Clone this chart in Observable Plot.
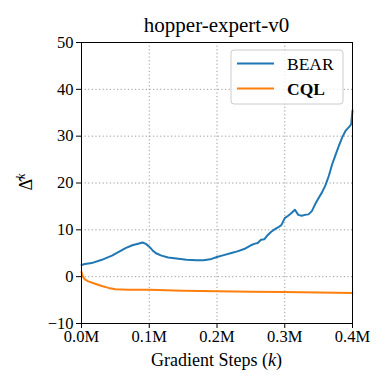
<!DOCTYPE html>
<html><head><meta charset="utf-8">
<script src="https://cdn.jsdelivr.net/npm/d3@7"></script>
<script src="https://cdn.jsdelivr.net/npm/@observablehq/plot@0.6"></script>
<style>body{margin:0;background:#fff}</style>
</head><body><div id="chart"></div>
<script>
const bearSteps = [0, 0.005, 0.015, 0.03, 0.045, 0.055, 0.065, 0.075, 0.085, 0.09, 0.095, 0.1, 0.105, 0.11, 0.118, 0.128, 0.14, 0.155, 0.17, 0.18, 0.19, 0.2, 0.21, 0.22, 0.23, 0.24, 0.25, 0.255, 0.26, 0.265, 0.27, 0.275, 0.28, 0.285, 0.29, 0.295, 0.3, 0.305, 0.31, 0.315, 0.32, 0.325, 0.33, 0.335, 0.34, 0.345, 0.35, 0.355, 0.36, 0.365, 0.37, 0.375, 0.38, 0.385, 0.39, 0.395, 0.398, 0.4];
const bearDelta = [2.5, 2.7, 2.9, 3.6, 4.5, 5.3, 6.1, 6.7, 7.1, 7.3, 7.0, 6.4, 5.6, 5.0, 4.5, 4.1, 3.9, 3.6, 3.5, 3.5, 3.7, 4.2, 4.6, 5.0, 5.4, 5.9, 6.7, 7.0, 7.2, 7.9, 8.0, 8.9, 9.6, 10.1, 10.5, 11.0, 12.5, 13.0, 13.6, 14.3, 13.2, 13.0, 13.2, 13.3, 14.0, 15.5, 16.8, 18.0, 19.5, 21.5, 24.0, 26.0, 28.0, 29.8, 31.2, 32.0, 32.5, 35.5];
const cqlSteps = [0, 0.002, 0.005, 0.01, 0.02, 0.03, 0.04, 0.05, 0.07, 0.1, 0.15, 0.2, 0.25, 0.3, 0.35, 0.4];
const cqlDelta = [1.0, 0.0, -0.6, -1.0, -1.5, -2.0, -2.4, -2.7, -2.8, -2.8, -3.0, -3.1, -3.2, -3.3, -3.4, -3.5];
const xTicks = [0, 0.1, 0.2, 0.3, 0.4];
const yTicks = [-10, 0, 10, 20, 30, 40, 50];
const seriesNames = ["BEAR", "CQL"];
const seriesColors = ["#1f77b4", "#ff7f0e"];
const titleText = "hopper-expert-v0";

const rows = [
  ...bearSteps.map((x, i) => ({series: "BEAR", x, y: bearDelta[i]})),
  ...cqlSteps.map((x, i) => ({series: "CQL", x, y: cqlDelta[i]}))
];
const FONT = "'Liberation Serif', 'Times New Roman', serif";
const gridStyle = {stroke: "#999", strokeOpacity: 1, strokeDasharray: "1.2,2.4", strokeWidth: 1};

const svg = Plot.plot({
  width: 390, height: 390,
  marginLeft: 81, marginRight: 38, marginTop: 42, marginBottom: 67,
  style: {fontFamily: FONT, fontSize: "16.5px", color: "black", background: "white"},
  x: {domain: [0, 0.4]},
  y: {domain: [-10, 50]},
  color: {domain: seriesNames, range: seriesColors},
  marks: [
    Plot.gridX(xTicks, gridStyle),
    Plot.gridY(yTicks, gridStyle),
    Plot.line(rows, {x: "x", y: "y", z: "series", stroke: "series", strokeWidth: 2, curve: "linear"}),
    Plot.frame({stroke: "black", strokeWidth: 1}),
    Plot.axisX(xTicks, {tickFormat: d => d.toFixed(1) + "M", label: null, tickSize: 5, tickPadding: 2, fontSize: 16.5}),
    Plot.axisY(yTicks, {label: null, tickSize: 5, tickPadding: 3, fontSize: 16.5})
  ]
});

const s = d3.select(svg);
function txt(x, y, size, anchor) {
  return s.append("text").attr("x", x).attr("y", y).attr("text-anchor", anchor)
    .style("font-family", FONT).style("font-size", size + "px").attr("fill", "black");
}
// title
txt(216.5, 32, 21, "middle").text(titleText);
// x label
const xl = txt(216.5, 366, 18, "middle");
xl.append("tspan").text("Gradient Steps (");
xl.append("tspan").style("font-style", "italic").text("k");
xl.append("tspan").text(")");
// y label
const yl = s.append("text").attr("transform", "translate(32,182) rotate(-90)").attr("text-anchor", "middle")
  .style("font-family", FONT).style("font-size", "18px").attr("fill", "black");
yl.append("tspan").text("\u0394\u0302");
yl.append("tspan").style("font-style", "italic").style("font-size", "12px").attr("dy", -7).text("k");
// legend
const lg = s.append("g");
lg.append("rect").attr("x", 231).attr("y", 50).attr("width", 112).attr("height", 54).attr("rx", 3)
  .attr("fill", "white").attr("fill-opacity", 0.8).attr("stroke", "#ccc").attr("stroke-width", 1);
seriesNames.forEach((name, i) => {
  const yy = 63.5 + i * 25;
  lg.append("line").attr("x1", 237).attr("x2", 274).attr("y1", yy).attr("y2", yy)
    .attr("stroke", seriesColors[i]).attr("stroke-width", 2);
  const t = txt(287, yy + 6, 17.5, "start").text(name);
  if (i === 1) t.style("font-weight", "bold");
});
document.getElementById("chart").appendChild(svg);
</script>
</body></html>
